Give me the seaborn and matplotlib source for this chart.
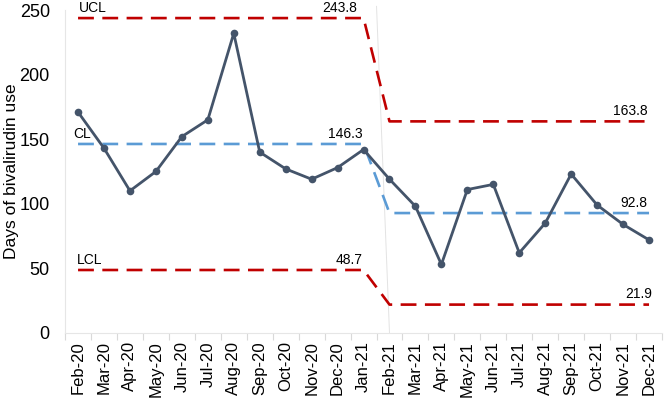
import numpy as np
import pandas as pd
import matplotlib
matplotlib.use("Agg")
import matplotlib.pyplot as plt
import seaborn as sns

months = ["Feb-20", "Mar-20", "Apr-20", "May-20", "Jun-20", "Jul-20", "Aug-20",
          "Sep-20", "Oct-20", "Nov-20", "Dec-20", "Jan-21", "Feb-21", "Mar-21",
          "Apr-21", "May-21", "Jun-21", "Jul-21", "Aug-21", "Sep-21", "Oct-21",
          "Nov-21", "Dec-21"]
days = [171, 143, 110, 125, 152, 165, 232, 140, 127, 119, 128, 142,
        119, 98, 53, 111, 115, 62, 85, 123, 99, 84, 72]
ucl = [243.8] * 12 + [163.8] * 11
cl = [146.3] * 12 + [92.8] * 11
lcl = [48.7] * 12 + [21.9] * 11

df = pd.DataFrame({"x": np.arange(len(months)), "days": days,
                   "ucl": ucl, "cl": cl, "lcl": lcl})

sns.set_theme(style="white", rc={"text.color": "black",
                                 "axes.labelcolor": "black",
                                 "xtick.color": "black",
                                 "ytick.color": "black"})
plt.rcParams["font.family"] = ["Liberation Sans", "DejaVu Sans"]

fig = plt.figure(figsize=(6.64, 4.03), dpi=100)
ax = fig.add_axes([0.098, 0.174, 0.899, 0.801])

red = "#C00000"
blue = "#5B9BD5"
slate = "#44546A"

# separator between the two periods
ax.plot([11.5, 12], [253, 0], color="#E3E3E3", lw=0.7, clip_on=False, zorder=1)

for col, colour in [("ucl", red), ("lcl", red), ("cl", blue)]:
    sns.lineplot(data=df, x="x", y=col, ax=ax, color=colour, lw=1.9,
                 dashes=(6, 3.2), zorder=2)
sns.lineplot(data=df, x="x", y="days", ax=ax, color=slate, lw=2.0,
             marker="o", markersize=5.5, markeredgewidth=0, zorder=3)

# labels
off = 2.5
ax.text(0.05, ucl[0] + off, "UCL", fontsize=10, ha="left", va="bottom")
ax.text(-0.2, cl[0] + off, "CL", fontsize=10, ha="left", va="bottom")
ax.text(-0.05, lcl[0] + off, "LCL", fontsize=10, ha="left", va="bottom")
ax.text(10.75, ucl[0] + off, f"{ucl[0]:.1f}", fontsize=10, ha="right", va="bottom")
ax.text(10.95, cl[0] + off, f"{cl[0]:.1f}", fontsize=10, ha="right", va="bottom")
ax.text(10.95, lcl[0] + off, f"{lcl[0]:.1f}", fontsize=10, ha="right", va="bottom")
ax.text(21.95, ucl[-1] + off, f"{ucl[-1]:.1f}", fontsize=10, ha="right", va="bottom")
ax.text(21.95, cl[-1] + off, f"{cl[-1]:.1f}", fontsize=10, ha="right", va="bottom")
ax.text(22.1, lcl[-1] + off, f"{lcl[-1]:.1f}", fontsize=10, ha="right", va="bottom")

ax.set_xlim(-0.5, 22.5)
ax.set_ylim(0, 250)
ax.set_yticks([0, 50, 100, 150, 200, 250])
ax.set_xticks(df["x"])
ax.set_xticklabels(months, rotation=90, fontsize=12)
ax.set_xticks(np.arange(-0.5, 23, 1), minor=True)
ax.tick_params(axis="x", which="major", length=0, pad=6)
ax.tick_params(axis="x", which="minor", length=5, color="#D9D9D9", width=0.8,
               bottom=True)
ax.tick_params(axis="y", length=0, labelsize=13, pad=11)
ax.set_xlabel("")
ax.set_ylabel("Days of bivalirudin use", fontsize=12.5)
ax.yaxis.set_label_coords(-0.077, 0.5)

for side in ["top", "right"]:
    ax.spines[side].set_visible(False)
for side in ["left", "bottom"]:
    ax.spines[side].set_color("#E6E6E6")
    ax.spines[side].set_linewidth(0.8)

fig.savefig("out.png", dpi=100)
